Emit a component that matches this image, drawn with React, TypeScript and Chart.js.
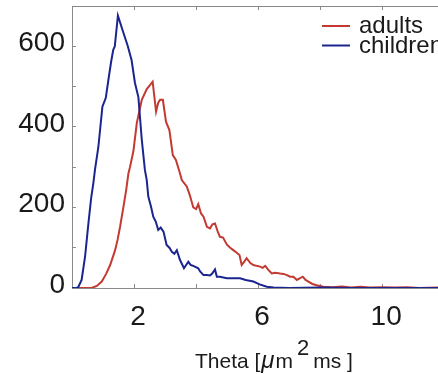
import React, { useEffect, useRef } from "react";
import { Chart, registerables } from "chart.js";

Chart.register(...registerables);

// ---- data ----
const seriesNames = ["adults", "children"];

const childrenX = [
  0, 0.15, 0.2, 0.31, 0.42, 0.53, 0.62, 0.69, 0.74, 0.85, 0.98, 1.09, 1.18, 1.26, 1.33, 1.38,
  1.48, 1.66, 1.8, 1.92, 2.03, 2.14, 2.25, 2.35, 2.41, 2.46, 2.55, 2.62, 2.7, 2.78, 2.86, 2.95,
  3.05, 3.14, 3.22, 3.3, 3.38, 3.48, 3.61, 3.75, 3.83, 3.91, 4.07, 4.13, 4.24, 4.35, 4.45, 4.52,
  4.61, 4.67, 4.77, 4.99, 5.2, 5.42, 5.6, 5.85, 6.05, 6.28, 6.5, 7, 8, 9, 10, 11, 11.8,
];
const childrenY = [
  0, 0, 2, 20, 77, 161, 225, 261, 293, 350, 450, 472, 520, 561, 591, 600,
  676, 633, 600, 566, 509, 474, 368, 293, 268, 227, 201, 177, 165, 144, 150, 140,
  107, 100, 90, 85, 94, 70, 49, 65, 57, 55, 49, 41, 32, 32, 31, 36,
  46, 28, 28, 24, 24, 24, 20, 16, 9, 3, 1, 0, 1, 0, 0, 0, 0,
];

const adultsX = [
  0, 0.63, 0.8, 0.96, 1.1, 1.23, 1.39, 1.47, 1.55, 1.66, 1.75, 1.82, 1.87, 1.98, 2.09, 2.25,
  2.41, 2.52, 2.6, 2.71, 2.78, 2.84, 2.93, 3.03, 3.14, 3.25, 3.35, 3.48, 3.54, 3.7, 3.8, 3.91,
  4.0, 4.07, 4.16, 4.24, 4.35, 4.45, 4.53, 4.61, 4.7, 4.77, 4.87, 4.99, 5.1, 5.2, 5.3, 5.4,
  5.47, 5.55, 5.63, 5.75, 5.85, 5.95, 6.06, 6.15, 6.23, 6.33, 6.44, 6.55, 6.71, 6.82, 6.93, 7.03,
  7.14, 7.25, 7.34, 7.44, 7.53, 7.62, 7.75, 7.89, 8.1, 8.4, 8.7, 9.0, 9.3, 9.6, 10.0, 10.4,
  10.8, 11.2, 11.8,
];
const adultsY = [
  0, 0, 5, 16, 35, 57, 94, 120, 152, 202, 245, 285, 300, 340, 410, 467,
  494, 504, 512, 438, 460, 467, 467, 413, 392, 330, 318, 285, 268, 252, 230, 200,
  196, 208, 185, 177, 152, 148, 158, 160, 140, 127, 125, 108, 100, 94, 88, 82,
  57, 65, 74, 62, 57, 55, 53, 50, 55, 45, 36, 38, 36, 35, 32, 28,
  28, 20, 24, 28, 20, 16, 10, 7, 3, 2, 4, 1, 3, 1, 2, 1,
  2, 0, 1,
];

const xMin = 0;
const xMax = 11.8;
const xStep = 2;
const xTickLabels = [2, 6, 10];
const yMin = 0;
const yMax = 700;
const yStep = 100;
const yTickLabels = [0, 200, 400, 600];

const titlePre = "Theta [";
const titleMu = "\u03bc";
const titleUnit = "m";
const titleSup = "2";
const titlePost = "ms ]";

// ---- styles ----
const RED = "#c23a32";
const BLUE = "#1b2590";
const AXIS = "#8a8a8a";
const TEXT = "#1a1a1a";
const FONT = "'Liberation Sans', Arial, Helvetica, sans-serif";

const overlayPlugin = {
  id: "overlay",
  afterDraw(chart: any) {
    const ctx = chart.ctx as CanvasRenderingContext2D;
    const a = chart.chartArea;
    const xs = chart.scales.x;
    ctx.save();
    // top frame line with inward ticks
    ctx.strokeStyle = AXIS;
    ctx.lineWidth = 1;
    ctx.beginPath();
    ctx.moveTo(a.left, a.top + 0.5);
    ctx.lineTo(a.right, a.top + 0.5);
    for (const t of xs.ticks) {
      const px = Math.round(xs.getPixelForValue(t.value)) + 0.5;
      ctx.moveTo(px, a.top);
      ctx.lineTo(px, a.top + 4);
    }
    ctx.stroke();
    // legend
    const items = [
      { label: seriesNames[0], color: RED, y: a.top + 20, base: a.top + 27 },
      { label: seriesNames[1], color: BLUE, y: a.top + 39.5, base: a.top + 47 },
    ];
    for (const it of items) {
      ctx.strokeStyle = it.color;
      ctx.lineWidth = 2;
      ctx.beginPath();
      ctx.moveTo(a.right - 116, it.y);
      ctx.lineTo(a.right - 88, it.y);
      ctx.stroke();
      ctx.fillStyle = TEXT;
      ctx.font = `24px ${FONT}`;
      ctx.textAlign = "left";
      ctx.textBaseline = "alphabetic";
      ctx.fillText(it.label, a.right - 79, it.base);
    }
    // x-axis title with superscript
    let x = a.left + 123;
    const base = a.bottom + 80;
    ctx.fillStyle = TEXT;
    ctx.textBaseline = "alphabetic";
    ctx.font = `21px ${FONT}`;
    ctx.fillText(titlePre, x, base);
    x += ctx.measureText(titlePre).width + 1;
    ctx.font = `italic 24px ${FONT}`;
    ctx.fillText(titleMu, x, base);
    x += ctx.measureText(titleMu).width + 1;
    ctx.font = `21px ${FONT}`;
    ctx.fillText(titleUnit, x, base);
    x += ctx.measureText(titleUnit).width + 4;
    ctx.font = `22px ${FONT}`;
    ctx.fillText(titleSup, x, base - 13);
    x += ctx.measureText(titleSup).width + 4;
    ctx.font = `21px ${FONT}`;
    ctx.fillText(titlePost, x, base);
    ctx.restore();
  },
};

function toPoints(xs: number[], ys: number[]) {
  return xs.map((x, i) => ({ x, y: ys[i] }));
}

export default function App() {
  const ref = useRef<HTMLCanvasElement | null>(null);
  useEffect(() => {
    if (!ref.current) return;
    const chart = new Chart(ref.current, {
      type: "line",
      data: {
        datasets: [
          {
            label: seriesNames[1],
            data: toPoints(childrenX, childrenY),
            borderColor: BLUE,
            borderWidth: 2,
            pointRadius: 0,
            tension: 0,
            fill: false,
          },
          {
            label: seriesNames[0],
            data: toPoints(adultsX, adultsY),
            borderColor: RED,
            borderWidth: 2,
            pointRadius: 0,
            tension: 0,
            fill: false,
          },
        ],
      },
      options: {
        animation: false,
        responsive: false,
        maintainAspectRatio: false,
        layout: { padding: { top: 6, right: 0, left: 0, bottom: 0 } },
        plugins: { legend: { display: false }, tooltip: { enabled: false } },
        scales: {
          x: {
            type: "linear",
            position: "bottom",
            min: xMin,
            max: xMax,
            afterFit: (s: any) => {
              s.height = 86;
              s.paddingLeft = 0;
              s.paddingRight = 0;
            },
            border: { display: true, color: AXIS, width: 1 },
            grid: { drawOnChartArea: false, drawTicks: true, tickLength: -4, color: AXIS },
            ticks: {
              stepSize: xStep,
              includeBounds: false,
              autoSkip: false,
              maxRotation: 0,
              padding: 16,
              labelOffset: 4,
              color: TEXT,
              font: { family: FONT, size: 28 },
              callback: (v: any) => (xTickLabels.includes(Number(v)) ? String(v) : ""),
            },
          },
          y: {
            type: "linear",
            min: yMin,
            max: yMax,
            afterFit: (s: any) => {
              s.width = 72;
              s.paddingTop = 0;
              s.paddingBottom = 0;
            },
            border: { display: true, color: AXIS, width: 1 },
            grid: { drawOnChartArea: false, drawTicks: true, tickLength: -4, color: AXIS },
            ticks: {
              stepSize: yStep,
              autoSkip: false,
              padding: 11,
              labelOffset: -3,
              color: TEXT,
              font: { family: FONT, size: 28 },
              callback: (v: any) => (yTickLabels.includes(Number(v)) ? String(v) : ""),
            },
          },
        },
      } as any,
      plugins: [overlayPlugin],
    });
    return () => chart.destroy();
  }, []);
  return (
    <div style={{ position: "absolute", left: 0, top: 0, width: 438, height: 374, background: "#fff" }}>
      <canvas ref={ref} width={438} height={374} style={{ display: "block", width: 438, height: 374 }} />
    </div>
  );
}
